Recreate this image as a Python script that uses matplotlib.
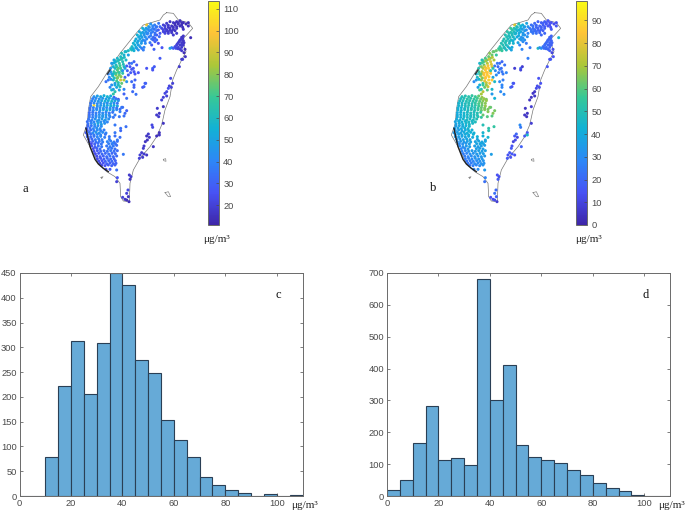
import matplotlib
matplotlib.use("Agg")
import matplotlib.pyplot as plt
from matplotlib.colors import LinearSegmentedColormap, Normalize
from matplotlib.cm import ScalarMappable

W, H = 685, 512

hist_edges = list(range(0, 110, 5))
hist_c = [0, 0, 78, 221, 313, 205, 309, 449, 426, 275, 249, 154, 112, 78, 39, 23, 13, 6, 1, 5, 0, 3]
hist_d = [19, 50, 166, 284, 112, 119, 97, 680, 300, 412, 161, 122, 113, 103, 81, 65, 40, 24, 15, 2, 1, 1]

coast_x = [500, 520, 535, 565, 578, 560, 545, 558, 545, 530, 518, 510, 495, 485, 470, 450, 420, 400, 390, 388,
           370, 362, 360, 345, 320, 295, 270, 250, 262, 265, 272, 295, 320, 360, 400, 430, 480, 490, 500]
coast_y = [38, 40, 60, 68, 85, 105, 120, 155, 180, 210, 240, 290, 330, 375, 410, 440, 475, 510, 550, 605,
           603, 590, 550, 530, 515, 490, 440, 405, 370, 330, 290, 260, 220, 160, 110, 75, 60, 45, 38]
dark_coast_x = [258, 262, 270, 285, 295, 310, 325]
dark_coast_y = [385, 405, 440, 478, 492, 505, 515]
dark_nw_x = [322, 330]
dark_nw_y = [222, 210]
isle1_x = [490, 497, 498, 491, 490]
isle1_y = [478, 476, 484, 482, 478]
isle2_x = [495, 505, 512, 505, 495]
isle2_y = [578, 575, 590, 590, 578]
isle3_x = [303, 309, 305, 303]
isle3_y = [532, 530, 536, 532]

# Station positions on the map and their values in the two panels
north_x = [490, 500, 510, 520, 530, 540, 550, 565, 485, 495, 505, 515, 525, 535, 545, 490, 500, 510, 520, 530,
           495, 505, 515, 475, 480, 565, 550, 530, 520, 470, 465, 460, 475, 455,
           495, 505, 525, 535, 545, 558, 490, 500, 510, 520, 530, 540, 495, 505, 515, 525, 548, 572]
north_y = [75, 70, 65, 68, 65, 62, 68, 68, 85, 85, 82, 78, 75, 72, 75, 95, 92, 90, 88, 85,
           100, 100, 98, 90, 100, 78, 88, 100, 105, 105, 115, 120, 130, 135,
           78, 76, 70, 68, 68, 72, 90, 89, 85, 82, 80, 78, 96, 95, 93, 92, 82, 113]
north_a = [20, 18, 16, 17, 15, 15, 14, 14, 22, 20, 17, 16, 15, 15, 14, 22, 19, 18, 17, 17,
           22, 20, 18, 26, 27, 15, 16, 18, 18, 28, 30, 30, 25, 27,
           20, 18, 15, 15, 14, 14, 22, 19, 17, 16, 16, 15, 21, 18, 17, 16, 15, 14]
north_b = [22, 20, 18, 18, 18, 15, 14, 13, 24, 22, 20, 19, 17, 16, 14, 24, 22, 20, 19, 18,
           24, 22, 20, 28, 28, 15, 16, 20, 20, 30, 32, 32, 24, 28,
           22, 20, 18, 16, 14, 13, 23, 21, 19, 18, 17, 15, 23, 21, 19, 18, 14, 45]

yilan_x = [525, 530, 535, 540, 545, 550, 535, 540, 545, 550, 540, 545, 550, 555, 545, 552, 510, 515, 520, 528, 556, 548,
           532, 538, 543, 548, 528, 534, 552, 547]
yilan_y = [140, 135, 128, 120, 112, 108, 142, 135, 128, 122, 148, 142, 135, 148, 152, 158, 145, 143, 145, 145, 170, 178,
           132, 124, 118, 115, 143, 146, 128, 135]
yilan_a = [22, 20, 18, 18, 17, 17, 20, 18, 18, 17, 19, 18, 17, 15, 18, 14, 52, 40, 30, 24, 16, 20,
           20, 18, 18, 17, 22, 20, 17, 18]
yilan_b = [22, 21, 20, 20, 19, 19, 21, 20, 19, 19, 20, 19, 18, 12, 18, 10, 48, 32, 30, 24, 14, 18,
           21, 20, 19, 19, 21, 20, 19, 19]

taipei_x = [440, 452, 464, 476, 428, 438, 448, 458, 468, 480, 418, 428, 438, 448, 458, 470, 412, 422, 432, 442, 452,
            465, 478, 408, 420, 430, 440, 455, 470, 400, 412, 424, 436, 450, 465, 396, 408, 420, 432, 395, 385, 378,
            402, 415, 430, 462, 486, 480, 458,
            446, 458, 470, 433, 443, 453, 463, 423, 433, 443, 453, 465, 416, 426, 436, 447, 460, 405, 415, 425, 435, 405, 415, 392, 400, 410, 425]
taipei_y = [75, 72, 75, 70, 85, 85, 82, 85, 82, 80, 95, 97, 95, 92, 95, 92, 105, 107, 105, 102, 107,
            105, 110, 117, 117, 120, 117, 117, 120, 130, 128, 130, 130, 128, 125, 140, 142, 140, 142, 150, 152, 155,
            152, 150, 150, 148, 143, 175, 205,
            80, 78, 80, 90, 88, 90, 88, 100, 101, 99, 100, 99, 111, 112, 111, 111, 112, 123, 123, 124, 123, 135, 135, 146, 146, 145, 145]
taipei_a = [95, 45, 38, 36, 55, 48, 42, 38, 35, 32, 52, 48, 45, 40, 38, 34, 55, 50, 45, 40, 38,
            35, 32, 52, 50, 44, 40, 36, 32, 56, 52, 48, 42, 36, 30, 58, 54, 48, 40, 62, 60, 58,
            55, 45, 38, 30, 26, 28, 30,
            46, 40, 36, 50, 44, 40, 36, 52, 46, 42, 38, 34, 52, 48, 44, 38, 32, 54, 50, 46, 40, 54, 48, 60, 54, 48, 38]
taipei_b = [78, 50, 42, 38, 56, 52, 46, 40, 36, 32, 52, 50, 48, 42, 38, 34, 50, 48, 48, 44, 40,
            36, 32, 50, 48, 46, 44, 38, 32, 50, 50, 48, 44, 38, 30, 52, 50, 46, 40, 60, 62, 62,
            55, 48, 38, 28, 24, 26, 20,
            48, 42, 36, 52, 46, 42, 36, 50, 48, 44, 40, 34, 50, 48, 46, 40, 32, 50, 50, 46, 42, 50, 48, 56, 52, 48, 40]

hsinchu_x = [372, 362, 352, 342, 335, 378, 368, 358, 348, 385, 375, 365, 355, 345, 395, 402, 410, 380, 390, 400,
             372, 362, 352, 342, 332, 325, 382, 392, 405, 368, 358, 348, 338, 328, 375, 385, 415,
             372, 362, 352, 340, 325, 318, 345, 355, 365, 380, 395, 405, 435, 428, 402,
             360, 350, 340, 330, 345, 340, 335, 372, 380, 402, 408, 398, 355,
             367, 357, 347, 338, 373, 363, 353, 343, 370, 360, 350, 340, 332, 375, 365, 355, 345, 335, 363, 353, 343,
             333, 368, 358, 348, 338, 355, 345, 335, 350, 358, 372, 388, 395, 402]
hsinchu_y = [165, 170, 175, 180, 190, 180, 185, 190, 195, 165, 155, 160, 205, 205, 190, 185, 195, 198, 200, 205,
             200, 205, 210, 215, 215, 222, 212, 218, 222, 220, 225, 225, 228, 232, 232, 225, 218,
             240, 240, 235, 240, 240, 245, 250, 248, 250, 245, 245, 240, 250, 262, 255,
             260, 262, 268, 262, 275, 282, 270, 282, 295, 262, 283, 275, 298,
             175, 180, 185, 190, 172, 178, 183, 188, 193, 197, 200, 200, 205, 205, 212, 216, 220, 222, 230, 232, 234,
             238, 212, 218, 220, 222, 255, 255, 255, 243, 270, 268, 190, 208, 215]
hsinchu_a = [56, 60, 58, 52, 45, 58, 62, 66, 60, 50, 58, 62, 75, 60, 36, 30, 28, 28, 26, 28,
             60, 70, 72, 66, 48, 40, 30, 28, 26, 65, 75, 80, 60, 42, 30, 28, 26,
             85, 92, 78, 58, 36, 34, 48, 62, 75, 45, 32, 30, 28, 26, 30,
             65, 52, 46, 40, 64, 66, 56, 30, 34, 30, 34, 32, 24,
             60, 60, 56, 48, 60, 64, 62, 54, 62, 68, 66, 56, 46, 50, 68, 74, 62, 44, 80, 78, 62,
             44, 46, 66, 70, 56, 60, 52, 44, 70, 50, 40, 30, 27, 27]
hsinchu_b = [62, 62, 58, 50, 42, 70, 78, 72, 62, 55, 62, 66, 82, 72, 22, 20, 22, 24, 20, 22,
             80, 86, 84, 72, 54, 44, 30, 26, 24, 84, 86, 84, 72, 48, 38, 30, 28,
             86, 88, 84, 70, 34, 30, 52, 74, 82, 46, 30, 26, 24, 22, 28,
             76, 62, 48, 36, 72, 70, 58, 34, 42, 28, 30, 30, 64,
             66, 62, 56, 50, 72, 76, 68, 58, 78, 82, 80, 66, 52, 52, 84, 86, 74, 48, 86, 84, 66,
             44, 52, 84, 84, 62, 68, 56, 42, 80, 60, 46, 24, 24, 24]

changhua_x = [282, 292, 302, 312, 322, 332, 342, 275, 285, 295, 305, 315, 325, 335, 345, 355, 272, 282, 292, 302,
              312, 322, 332, 342, 352, 365, 270, 280, 290, 300, 310, 320, 330, 340, 350, 268, 278, 288, 298, 308,
              318, 328, 345, 375, 380, 360, 368, 358, 372,
              278, 288, 298, 308, 318, 328, 338, 348, 272, 282, 292, 302, 312, 322, 332, 342, 352, 270, 280, 290, 300,
              310, 320, 330, 340, 350, 360, 268, 278, 288, 298, 308, 318, 328, 338]
changhua_y = [290, 288, 290, 287, 290, 288, 292, 303, 302, 304, 302, 304, 302, 304, 302, 302, 317, 316, 318, 316,
              318, 316, 318, 316, 318, 322, 330, 331, 329, 331, 329, 331, 329, 331, 329, 345, 344, 346, 344, 346,
              344, 346, 345, 340, 332, 335, 322, 350, 348,
              296, 295, 297, 295, 297, 295, 297, 296, 310, 309, 311, 309, 311, 309, 311, 309, 310, 324, 323, 325, 323,
              325, 323, 325, 323, 324, 328, 338, 337, 339, 337, 339, 337, 339, 337]
changhua_a = [44, 48, 52, 54, 56, 54, 30, 40, 44, 46, 50, 54, 56, 58, 52, 46, 38, 105, 44, 46,
              50, 52, 54, 56, 50, 38, 36, 40, 44, 46, 48, 52, 50, 44, 42, 34, 38, 40, 44, 46,
              46, 44, 38, 32, 30, 38, 34, 36, 34,
              38, 42, 44, 46, 48, 50, 46, 36, 36, 40, 42, 44, 46, 44, 48, 42, 36, 34, 38, 40, 42,
              44, 42, 44, 40, 36, 34, 32, 36, 38, 40, 42, 40, 38, 36]
changhua_b = [50, 50, 52, 54, 56, 62, 68, 46, 48, 50, 50, 52, 54, 60, 66, 68, 44, 46, 48, 50,
              50, 52, 56, 62, 68, 66, 42, 44, 46, 48, 50, 50, 54, 62, 66, 40, 42, 44, 46, 48,
              48, 50, 62, 66, 64, 66, 62, 60, 60,
              48, 50, 52, 52, 54, 58, 64, 68, 44, 46, 48, 50, 50, 54, 58, 64, 66, 42, 44, 46, 48,
              50, 50, 54, 62, 64, 64, 40, 42, 44, 46, 48, 48, 50, 56]

chiayi_x = [266, 276, 286, 296, 306, 316, 326, 264, 274, 284, 294, 304, 314, 260, 270, 280, 290, 300, 345, 362,
            258, 268, 278, 288, 298, 308, 318, 378, 362, 345, 262, 272, 282, 292, 302, 314, 328, 345, 360,
            268, 278, 288, 298, 308, 318, 330, 340, 262, 272, 282, 292, 302, 312, 322, 264, 274, 284, 294, 304, 262, 272, 282, 292, 302, 312, 262, 272, 282, 292, 302, 316]
chiayi_y = [358, 360, 357, 360, 357, 360, 357, 372, 370, 373, 370, 373, 370, 385, 384, 386, 384, 386, 375, 385,
            398, 397, 399, 397, 399, 397, 399, 380, 392, 398, 410, 411, 409, 411, 409, 412, 410, 408, 412,
            351, 352, 350, 352, 350, 352, 350, 352, 365, 364, 366, 364, 366, 364, 366, 378, 377, 379, 377, 379, 391, 390, 392, 390, 392, 390, 404, 403, 405, 403, 405, 403]
chiayi_a = [36, 40, 44, 44, 46, 48, 44, 35, 42, 46, 52, 48, 44, 30, 36, 40, 44, 42, 36, 34,
            28, 36, 42, 46, 44, 42, 40, 34, 32, 36, 30, 34, 36, 40, 42, 38, 36, 34, 34,
            36, 38, 42, 44, 46, 44, 40, 36, 34, 38, 40, 46, 44, 42, 40, 32, 36, 40, 42, 42, 28, 34, 38, 42, 40, 38, 28, 34, 36, 40, 40, 36]
chiayi_b = [40, 42, 44, 46, 46, 48, 50, 38, 40, 42, 44, 46, 46, 36, 38, 40, 42, 44, 50, 52,
            34, 36, 38, 40, 42, 42, 42, 54, 50, 44, 34, 36, 38, 38, 40, 40, 42, 42, 44,
            40, 42, 44, 46, 46, 48, 50, 54, 38, 40, 42, 44, 46, 46, 48, 36, 38, 40, 42, 44, 34, 36, 38, 40, 42, 42, 34, 36, 38, 40, 40, 42]

kaohsiung_x = [268, 278, 288, 298, 308, 322, 332, 342, 352, 275, 285, 295, 305, 320, 330, 340, 350, 282, 292, 302,
               312, 322, 332, 342, 352, 370, 290, 300, 310, 320, 330, 340, 350, 296, 306, 316, 326, 336, 346, 305,
               315, 325, 335, 345, 330, 350, 318, 328, 338, 352,
               266, 276, 286, 296, 306, 274, 284, 294, 304, 326, 336, 346, 280, 290, 300, 325, 335, 345, 286, 296, 306, 316, 326, 336, 346, 292, 302, 312, 322, 332, 342, 300, 310, 320, 330, 340, 348]
kaohsiung_y = [425, 424, 426, 424, 426, 425, 423, 426, 424, 438, 440, 438, 440, 438, 440, 438, 436, 454, 452, 454,
               452, 454, 452, 454, 452, 463, 468, 470, 468, 470, 468, 470, 468, 483, 482, 484, 482, 484, 482, 496,
               497, 495, 497, 495, 508, 510, 508, 418, 430, 420,
               418, 417, 419, 417, 419, 431, 432, 430, 432, 431, 432, 431, 446, 445, 447, 446, 445, 447, 461, 460, 462, 460, 462, 460, 461, 476, 475, 477, 475, 477, 476, 490, 489, 491, 489, 491, 490]
kaohsiung_a = [26, 30, 34, 36, 38, 40, 38, 36, 34, 24, 30, 34, 36, 36, 38, 36, 34, 24, 28, 32,
               34, 34, 36, 34, 32, 36, 24, 28, 30, 32, 34, 32, 32, 24, 26, 30, 32, 32, 30, 22,
               26, 28, 30, 30, 28, 34, 26, 38, 40, 36,
               26, 32, 36, 38, 38, 24, 30, 34, 36, 38, 38, 34, 24, 30, 34, 36, 36, 34, 24, 28, 32, 32, 34, 32, 32, 24, 28, 30, 32, 32, 30, 22, 26, 30, 30, 30, 30]
kaohsiung_b = [32, 34, 34, 36, 38, 38, 38, 38, 38, 30, 32, 34, 36, 36, 36, 36, 36, 28, 30, 32,
               34, 34, 36, 36, 36, 36, 26, 28, 30, 32, 32, 34, 34, 24, 26, 28, 30, 32, 32, 24,
               26, 28, 30, 32, 30, 34, 28, 38, 40, 38,
               32, 34, 36, 38, 38, 30, 32, 34, 36, 38, 38, 38, 28, 30, 34, 36, 36, 36, 26, 28, 32, 32, 34, 36, 36, 26, 28, 30, 32, 32, 34, 24, 26, 30, 30, 32, 32]

east_x = [458, 463, 440, 437, 432, 512, 518, 508, 514, 505, 500, 495, 490, 485, 545, 538, 472, 478, 470, 476, 490,
          500, 456, 458, 445, 440, 448, 442, 436, 432, 430, 478, 470, 460, 420, 425, 432, 440, 418, 428, 490, 478]
east_y = [210, 200, 205, 250, 260, 235, 250, 258, 262, 265, 275, 280, 292, 300, 178, 200, 325, 340, 345, 350, 320,
          288, 375, 382, 402, 408, 412, 420, 425, 438, 445, 398, 408, 440, 465, 458, 462, 465, 475, 472, 370, 405]
east_a = [26, 28, 26, 30, 30, 22, 20, 21, 20, 24, 22, 22, 20, 20, 18, 18, 18, 16, 18, 18, 16,
          20, 22, 22, 18, 16, 16, 16, 16, 18, 18, 15, 15, 16, 20, 18, 18, 17, 20, 18, 16, 16]
east_b = [10, 8, 8, 14, 14, 14, 14, 13, 12, 12, 6, 6, 5, 5, 14, 15, 5, 5, 6, 5, 8,
          6, 30, 24, 20, 16, 10, 12, 10, 14, 16, 15, 16, 18, 14, 16, 16, 14, 16, 14, 8, 46]

south_x = [388, 393, 390, 384, 380, 385, 368, 375, 380, 387, 352, 350]
south_y = [525, 530, 538, 570, 580, 590, 592, 598, 600, 605, 533, 545]
south_a = [18, 18, 16, 22, 20, 16, 20, 16, 15, 14, 26, 20]
south_b = [14, 12, 16, 20, 22, 18, 14, 12, 12, 8, 28, 22]

station_x = north_x + yilan_x + taipei_x + hsinchu_x + changhua_x + chiayi_x + kaohsiung_x + east_x + south_x
station_y = north_y + yilan_y + taipei_y + hsinchu_y + changhua_y + chiayi_y + kaohsiung_y + east_y + south_y
station_a = north_a + yilan_a + taipei_a + hsinchu_a + changhua_a + chiayi_a + kaohsiung_a + east_a + south_a
station_b = north_b + yilan_b + taipei_b + hsinchu_b + changhua_b + chiayi_b + kaohsiung_b + east_b + south_b

parula = LinearSegmentedColormap.from_list("parula", [
    (0.2422, 0.1504, 0.6603), (0.2810, 0.3228, 0.9579), (0.1786, 0.5289, 0.9682),
    (0.0689, 0.6948, 0.8394), (0.2161, 0.7843, 0.5923), (0.6720, 0.7793, 0.2227),
    (0.9970, 0.7659, 0.2199), (0.9769, 0.9839, 0.0805)])

GRAY = "#6a6a6a"
TICKC = "#4a4a4a"
SANS = "Liberation Sans"
SERIF = "Liberation Serif"


def px_axes(fig, x0, y0, x1, y1):
    return fig.add_axes([x0 / W, 1 - y1 / H, (x1 - x0) / W, (y1 - y0) / H])


def draw_map(fig, dx, values, norm):
    ax = px_axes(fig, 70 + dx, 5, 205 + dx, 215)
    ax.set_xlim(210, 615)
    ax.set_ylim(645, 15)
    ax.axis("off")
    ax.plot(coast_x, coast_y, color="#777777", lw=0.5, zorder=1)
    ax.plot(dark_coast_x, dark_coast_y, color="#222222", lw=1.0, zorder=3)
    ax.plot(dark_nw_x, dark_nw_y, color="#333333", lw=1.0, zorder=3)
    for ix, iy in ((isle1_x, isle1_y), (isle2_x, isle2_y), (isle3_x, isle3_y)):
        ax.plot(ix, iy, color="#888888", lw=0.5, zorder=1)
    ax.scatter(station_x, station_y, c=values, cmap=parula, norm=norm, s=4.8, linewidths=0, zorder=2)


def draw_cbar(fig, x0, x1, ticks, norm, lab_x):
    cax = px_axes(fig, x0, 1, x1, 225)
    cb = fig.colorbar(ScalarMappable(norm=norm, cmap=parula), cax=cax)
    cb.set_ticks(ticks)
    cb.ax.tick_params(direction="in", length=2, width=0.5, labelsize=6.7, colors=TICKC, pad=3)
    for t in cb.ax.get_yticklabels():
        t.set_fontfamily(SANS)
    cb.outline.set_edgecolor(GRAY)
    cb.outline.set_linewidth(0.7)
    fig.text(lab_x / W, 1 - 240 / H, "μg/m³", family=SERIF, fontsize=8, color="#222222", ha="center", va="center")


def draw_hist(fig, x0, x1, counts, ymax, yticks, letter, letter_x):
    ax = px_axes(fig, x0, 273, x1, 496)
    ax.bar(hist_edges, counts, width=5, align="edge", color=(0.4, 0.668, 0.845),
           edgecolor="#2a3f55", linewidth=0.8)
    ax.set_xlim(0, 110)
    ax.set_ylim(0, ymax)
    ax.set_xticks(range(0, 101, 20))
    ax.set_yticks(yticks)
    ax.tick_params(direction="in", top=True, right=True, length=2.2, width=0.5, labelsize=6.7,
                   colors=TICKC, pad=2)
    for t in ax.get_xticklabels() + ax.get_yticklabels():
        t.set_fontfamily(SANS)
    for s in ax.spines.values():
        s.set_color(GRAY)
        s.set_linewidth(0.7)
    fig.text(letter_x / W, 1 - 294.5 / H, letter, family=SERIF, fontsize=9, color="#111111", ha="center", va="center")
    fig.text((x1 + 15) / W, 1 - 505.5 / H, "μg/m³", family=SERIF, fontsize=8, color="#222222", ha="right", va="center")


fig = plt.figure(figsize=(W / 100, H / 100), dpi=100)

norm_a = Normalize(11, 113.5)
norm_b = Normalize(0, 98.5)
draw_map(fig, 0, station_a, norm_a)
draw_map(fig, 368, station_b, norm_b)
draw_cbar(fig, 207.5, 219, list(range(20, 111, 10)), norm_a, 216)
draw_cbar(fig, 575.5, 587, list(range(0, 91, 10)), norm_b, 589)

fig.text(25 / W, 1 - 189 / H, "a", family=SERIF, fontsize=9, color="#111111", ha="center", va="center")
fig.text(433 / W, 1 - 188 / H, "b", family=SERIF, fontsize=9, color="#111111", ha="center", va="center")

draw_hist(fig, 19.5, 302.5, hist_c, 450, list(range(0, 451, 50)), "c", 278)
draw_hist(fig, 387, 670, hist_d, 700, list(range(0, 701, 100)), "d", 645.5)

fig.savefig("out.png", dpi=100)
